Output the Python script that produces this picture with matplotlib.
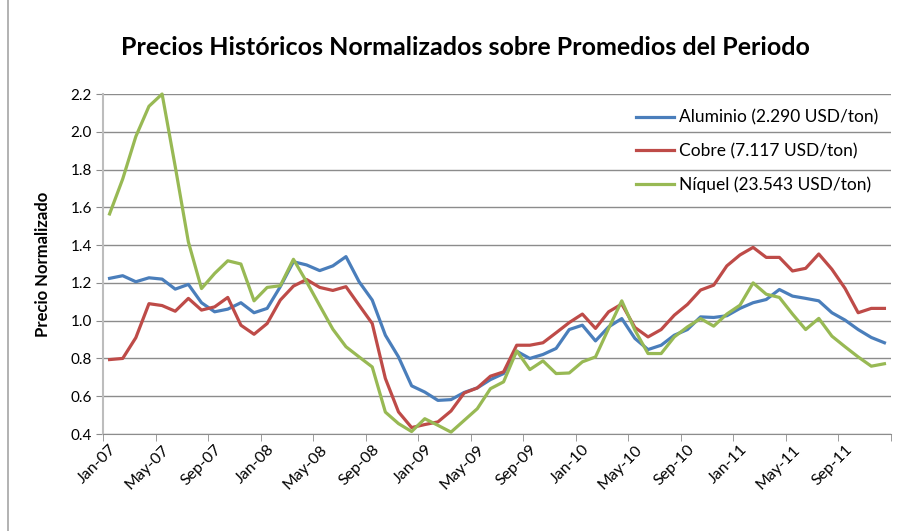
import numpy as np
import matplotlib.pyplot as plt
from matplotlib.lines import Line2D

plt.rcParams['font.family'] = ['Lato', 'DejaVu Sans']

# Monthly data, Jan-07 .. Dec-11 (60 months)
months = ['Jan', 'Feb', 'Mar', 'Apr', 'May', 'Jun', 'Jul', 'Aug', 'Sep', 'Oct', 'Nov', 'Dec']
years = ['07', '08', '09', '10', '11']
categories = [m + '-' + y for y in years for m in months]

aluminio = [1.224, 1.238, 1.206, 1.227, 1.220, 1.167, 1.192, 1.095, 1.047, 1.061, 1.095, 1.042,
            1.065, 1.180, 1.312, 1.295, 1.265, 1.290, 1.339, 1.206, 1.109, 0.923, 0.808, 0.655,
            0.622, 0.578, 0.582, 0.620, 0.644, 0.688, 0.720, 0.838, 0.800, 0.821, 0.853, 0.953,
            0.976, 0.893, 0.967, 1.011, 0.906, 0.847, 0.870, 0.923, 0.953, 1.020, 1.017, 1.026,
            1.065, 1.095, 1.112, 1.165, 1.130, 1.118, 1.105, 1.042, 1.003, 0.953, 0.911, 0.883]

cobre = [0.794, 0.800, 0.910, 1.090, 1.080, 1.050, 1.118, 1.056, 1.073, 1.123, 0.976, 0.928,
         0.985, 1.109, 1.183, 1.218, 1.176, 1.160, 1.180, 1.082, 0.985, 0.694, 0.517, 0.434,
         0.450, 0.464, 0.522, 0.617, 0.644, 0.706, 0.729, 0.870, 0.870, 0.883, 0.936, 0.990,
         1.035, 0.959, 1.047, 1.088, 0.964, 0.914, 0.953, 1.029, 1.086, 1.162, 1.188, 1.290,
         1.348, 1.388, 1.335, 1.335, 1.263, 1.277, 1.353, 1.272, 1.171, 1.042, 1.065, 1.065]

niquel = [1.565, 1.750, 1.975, 2.135, 2.200, 1.816, 1.417, 1.170, 1.250, 1.317, 1.300, 1.105,
          1.176, 1.185, 1.325, 1.206, 1.080, 0.955, 0.862, 0.808, 0.755, 0.516, 0.455, 0.413,
          0.481, 0.446, 0.410, 0.472, 0.534, 0.640, 0.676, 0.840, 0.741, 0.787, 0.720, 0.723,
          0.782, 0.808, 0.959, 1.105, 0.950, 0.826, 0.826, 0.914, 0.967, 1.011, 0.971, 1.035,
          1.082, 1.200, 1.140, 1.123, 1.035, 0.953, 1.012, 0.918, 0.862, 0.808, 0.759, 0.772]

labels = ['Aluminio (2.290 USD/ton)', 'Cobre (7.117 USD/ton)', 'Níquel (23.543 USD/ton)']
colors = ['#4A7EBB', '#BE4B48', '#98B954']


def main():
  fig = plt.figure(figsize=(8.99, 5.31), dpi=100)
  ax = fig.add_axes([103 / 899, 1 - 434 / 531, 788 / 899, 340 / 531])

  x = np.arange(len(categories))
  for series, lab, col in zip([aluminio, cobre, niquel], labels, colors):
    ax.plot(x, series, color=col, lw=2.3, label=lab, solid_joinstyle='round', clip_on=False)

  ax.set_xlim(-0.5, len(categories) - 0.5)
  ax.set_ylim(0.4, 2.2)
  ax.set_yticks(np.arange(0.4, 2.21, 0.2))
  ax.set_yticklabels([f'{v:.1f}' for v in np.arange(0.4, 2.21, 0.2)], fontsize=11)
  ax.grid(axis='y', color='#8c8c8c', lw=1)
  ax.set_axisbelow(True)

  # category labels every 4 months, tick marks at category boundaries
  ax.set_xticks(x[::4])
  ax.set_xticklabels(categories[::4], rotation=45, ha='right', va='top',
                     rotation_mode='anchor', fontsize=11.5)
  ax.tick_params(axis='x', which='major', length=0, pad=6)
  ax.set_xticks(np.arange(-0.5, len(categories), 4), minor=True)
  ax.tick_params(axis='x', which='minor', length=5, color='#8c8c8c', direction='out')
  ax.tick_params(axis='y', length=5, color='#8c8c8c', direction='out', pad=3)

  for side in ['top', 'right']:
    ax.spines[side].set_visible(False)
  ax.spines['left'].set_color('#bdbdbd')
  ax.spines['left'].set_linewidth(1.5)
  ax.spines['bottom'].set_color('#8c8c8c')

  ax.set_ylabel('Precio Normalizado', fontsize=12, fontweight='bold', labelpad=14)
  fig.text(0.518, 0.911, 'Precios Históricos Normalizados sobre Promedios del Periodo',
           ha='center', va='center', fontsize=18, fontweight='bold')

  handles = [Line2D([0], [0], color=c, lw=2.3) for c in colors]
  ax.legend(handles, labels, loc='upper right', bbox_to_anchor=(0.997, 0.985), frameon=False,
            fontsize=12.5, handlelength=2.2, handletextpad=0.3, labelspacing=1.0,
            borderaxespad=0.2)

  # chart area border (left edge visible)
  fig.add_artist(Line2D([8 / 899, 8 / 899], [0, 1], color='#a6a6a6', lw=1.2))

  fig.savefig('out.png', dpi=100)


if __name__ == '__main__':
  main()
